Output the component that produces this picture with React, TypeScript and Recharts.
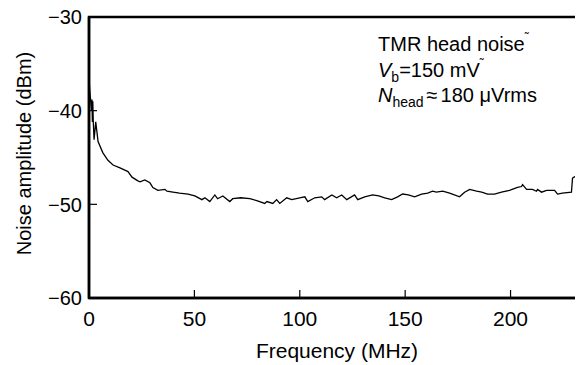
import React from 'react';
import { LineChart, Line, XAxis, YAxis, ReferenceArea, Label } from 'recharts';

const FONT = '"Liberation Sans", Arial, Helvetica, sans-serif';

const frequencyMHz = [
  0, 0.5, 1.2, 1.4, 1.6, 1.8, 2.0, 2.4, 3.2, 4.3, 6.6, 9, 11.4, 14.7, 18.5, 20.4, 23.2, 24.2,
  26.5, 28.9, 30.3, 32.7, 36, 37, 39.8, 43, 47, 50.2, 53.6, 55, 57.3, 59.7, 61, 63.5, 66.8,
  68.2, 72, 76.3, 79.6, 83.4, 84.4, 87.2, 89, 90.5, 93.8, 96.2, 100, 102.4, 103.8, 107.1,
  110.4, 111.8, 115.2, 117.5, 119.9, 122.3, 126, 127.5, 130.8, 134.6, 137.5, 140.3, 143.6,
  146.4, 148.8, 151.5, 154.5, 157.8, 160.7, 163, 164.8, 167.8, 171.1, 175.8, 178.2, 180.6,
  183.9, 186.3, 189.1, 192.4, 195.7, 199.5, 203.3, 205.2, 205.7, 207.6, 210.4, 212.3, 212.8,
  214.7, 217.1, 220.9, 222.3, 224.6, 228.9, 229.4, 230.8, 231.8,
];

const noiseDbm = [
  -36.7, -38.2, -40.0, -38.8, -41.2, -39.0, -41.0, -43.1, -41.2, -43.3, -44.5, -45.3, -45.8,
  -46.1, -46.5, -47.1, -47.5, -47.6, -47.4, -47.7, -48.2, -48.5, -48.4, -48.6, -48.7, -48.8,
  -48.9, -49.1, -49.5, -49.3, -49.7, -49.0, -49.4, -49.1, -49.7, -49.4, -49.3, -49.4, -49.6,
  -49.9, -49.7, -49.9, -49.5, -49.9, -49.3, -49.5, -49.3, -49.2, -49.7, -49.3, -49.2, -49.5,
  -49.0, -49.3, -49.0, -49.5, -49.0, -49.5, -49.2, -49.0, -49.1, -49.3, -49.5, -49.2, -48.9,
  -49.0, -49.2, -48.9, -48.8, -48.6, -48.7, -48.6, -48.8, -49.2, -48.7, -48.4, -48.6, -48.7,
  -48.9, -48.9, -48.7, -48.5, -48.2, -48.1, -47.9, -48.4, -48.4, -48.6, -48.4, -48.7, -48.5,
  -48.5, -48.9, -48.8, -48.7, -47.2, -47.0, -47.3,
];

const xTicks = [0, 50, 100, 150, 200];
const yTicks = [-60, -50, -40, -30];
const xDomain: [number, number] = [0, 232];
const yDomain: [number, number] = [-60, -30];
const xTitle = 'Frequency (MHz)';
const yTitle = 'Noise amplitude (dBm)';

const data = frequencyMHz.map((f, i) => ({ f, n: noiseDbm[i] }));

const fmt = (v: number) => String(v).replace('-', '\u2212');

const XTick = (props: any) => {
  const { x, y, payload } = props;
  return (
    <g>
      <line x1={x} x2={x} y1={y} y2={y - 8} stroke="#000" strokeWidth={1.2} />
      <text x={x} y={y + 27.5} textAnchor="middle" fontSize={21} fontFamily={FONT} fill="#000">
        {fmt(payload.value)}
      </text>
    </g>
  );
};

const YTick = (props: any) => {
  const { x, y, payload } = props;
  return (
    <g>
      <line x1={x} x2={x + 8} y1={y} y2={y} stroke="#000" strokeWidth={1.2} />
      <text x={x - 7} y={y + 7.3} textAnchor="end" fontSize={20} fontFamily={FONT} fill="#000">
        {fmt(payload.value)}
      </text>
    </g>
  );
};

const XTitle = (props: any) => {
  const vb = props.viewBox || {};
  return (
    <text
      x={vb.x + vb.width / 2 + 3.5}
      y={vb.y + vb.height}
      textAnchor="middle"
      fontSize={21}
      fontFamily={FONT}
      fill="#000"
    >
      {xTitle}
    </text>
  );
};

const YTitle = (props: any) => {
  const vb = props.viewBox || {};
  const x = vb.x + 12;
  const y = vb.y + vb.height / 2 - 4;
  return (
    <text
      x={x}
      y={y}
      transform={`rotate(-90 ${x} ${y})`}
      textAnchor="middle"
      fontSize={20}
      fontFamily={FONT}
      fill="#000"
    >
      {yTitle}
    </text>
  );
};

export default function App() {
  return (
    <div style={{ position: 'relative', width: 575, height: 357, fontFamily: FONT }}>
      <style>{'.recharts-surface{overflow:visible}'}</style>
      <LineChart
        width={575}
        height={357}
        data={data}
        margin={{ top: 9, right: 5, bottom: 7, left: 11 }}
      >
        <XAxis
          dataKey="f"
          type="number"
          domain={xDomain}
          ticks={xTicks}
          interval={0}
          allowDataOverflow
          height={60}
          tickSize={0}
          tickMargin={0}
          axisLine={{ stroke: '#000', strokeWidth: 2.5 }}
          tickLine={false}
          tick={XTick}
        >
          <Label content={XTitle} />
        </XAxis>
        <YAxis
          type="number"
          domain={yDomain}
          ticks={yTicks}
          interval={0}
          allowDataOverflow
          width={70}
          tickSize={0}
          tickMargin={0}
          axisLine={{ stroke: '#000', strokeWidth: 2.5 }}
          tickLine={false}
          tick={YTick}
        >
          <Label content={YTitle} />
        </YAxis>
        <ReferenceArea
          x1={xDomain[0]}
          x2={xDomain[1]}
          y1={yDomain[0]}
          y2={yDomain[1]}
          fill="none"
          fillOpacity={0}
          stroke="#000"
          strokeWidth={2.5}
          ifOverflow="visible"
        />
        <Line
          type="linear"
          dataKey="n"
          stroke="#000"
          strokeWidth={1.3}
          dot={false}
          isAnimationActive={false}
        />
      </LineChart>
      <svg
        width={575}
        height={357}
        style={{ position: 'absolute', left: 0, top: 0, pointerEvents: 'none', overflow: 'visible' }}
      >
        <g fontFamily={FONT} fontSize={20} fill="#000">
          <text x={370} y={43}>
            TMR head noise<tspan fontSize={12} dy={-9}>˜</tspan>
          </text>
          <text x={370} y={69}>
            <tspan fontStyle="italic">V</tspan>
            <tspan fontSize={14} dy={5}>b</tspan>
            <tspan dy={-5}>=150 mV</tspan>
            <tspan fontSize={12} dy={-9}>˜</tspan>
          </text>
          <text x={370} y={94}>
            <tspan fontStyle="italic">N</tspan>
            <tspan fontSize={14} dy={5}>head</tspan>
            <tspan dy={-5} dx={3}>≈</tspan>
            <tspan dx={3}>180 μVrms</tspan>
          </text>
        </g>
      </svg>
    </div>
  );
}
